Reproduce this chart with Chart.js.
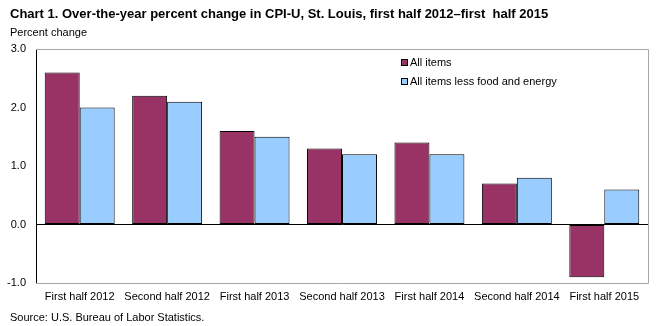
<!DOCTYPE html>
<html><head><meta charset="utf-8">
<script src="https://cdn.jsdelivr.net/npm/chart.js@4/dist/chart.umd.min.js"></script>
<style>html,body{margin:0;padding:0;background:#fff}#w{width:659px;height:326px}</style>
</head><body><div id="w"><canvas id="c" width="659" height="326"></canvas></div>
<script>
const categories = ["First half 2012","Second half 2012","First half 2013","Second half 2013","First half 2014","Second half 2014","First half 2015"];
const allItems = [2.6, 2.2, 1.6, 1.3, 1.4, 0.7, -0.9];
const coreItems = [2.0, 2.1, 1.5, 1.2, 1.2, 0.8, 0.6];
const seriesNames = ["All items","All items less food and energy"];
const yTicks = [3.0, 2.0, 1.0, 0.0, -1.0];
const titleText = "Chart 1. Over-the-year percent change in CPI-U, St. Louis, first half 2012\u2013first  half 2015";
const yLabel = "Percent change";
const sourceText = "Source: U.S. Bureau of Labor Statistics.";

const FONT = "Arial, 'Liberation Sans', sans-serif";
const deco = {
  id: 'deco',
  beforeDatasetsDraw(chart) {
    const {ctx, chartArea: a} = chart;
    ctx.save();
    ctx.strokeStyle = '#a6a6a6'; ctx.lineWidth = 1;
    ctx.beginPath();
    ctx.moveTo(a.left, a.top + 0.5); ctx.lineTo(a.right + 0.5, a.top + 0.5);
    ctx.lineTo(a.right + 0.5, a.bottom + 0.5); ctx.lineTo(a.left, a.bottom + 0.5);
    ctx.stroke();
    ctx.restore();
  },
  afterDraw(chart) {
    const {ctx, chartArea: a} = chart;
    ctx.save();
    ctx.fillStyle = '#000';
    ctx.textBaseline = 'middle'; ctx.textAlign = 'left';
    ctx.font = "bold 13px " + FONT;
    ctx.fillText(titleText, 10, 14);
    ctx.font = "11px " + FONT;
    ctx.fillText(yLabel, 10, 33);
    ctx.fillText(sourceText, 10, 318);
    const ds = chart.data.datasets;
    ds.forEach((d, i) => {
      const y = 63 + i * 19;
      ctx.fillStyle = d.backgroundColor;
      ctx.fillRect(401.5, y - 3.5, 6, 6);
      ctx.strokeStyle = '#000'; ctx.lineWidth = 1;
      ctx.strokeRect(401.5, y - 3.5, 6, 6);
      ctx.fillStyle = '#000';
      ctx.fillText(d.label, 410, y);
    });
    ctx.restore();
  }
};

new Chart(document.getElementById('c'), {
  type: 'bar',
  data: {
    labels: categories,
    datasets: [
      {label: seriesNames[0], data: allItems, backgroundColor: '#993366', borderColor: '#000', borderWidth: 1, borderSkipped: false},
      {label: seriesNames[1], data: coreItems, backgroundColor: '#99ccff', borderColor: '#000', borderWidth: 1, borderSkipped: false}
    ]
  },
  options: {
    responsive: false, animation: false,
    devicePixelRatio: 1,
    layout: {padding: {top: 49, right: 11, bottom: 0, left: 0}},
    categoryPercentage: 0.8, barPercentage: 1.0,
    plugins: {legend: {display: false}, title: {display: false}, tooltip: {enabled: false}},
    scales: {
      x: {
        grid: {display: false, drawTicks: false},
        border: {display: false},
        ticks: {color: '#000', font: {family: FONT, size: 11}, padding: 7, maxRotation: 0, autoSkip: false},
        afterFit(s) { s.height = 43; }
      },
      y: {
        min: -1, max: 3,
        afterBuildTicks(s) { s.ticks = yTicks.map(v => ({value: v})); },
        grid: {drawTicks: false, color: c => (c.tick && c.tick.value === 0) ? '#000' : 'rgba(0,0,0,0)', lineWidth: 1},
        border: {display: true, color: '#000', width: 1},
        ticks: {color: '#000', font: {family: FONT, size: 11}, padding: 10, callback: v => Number(v).toFixed(1)},
        afterFit(s) { s.width = 36; }
      }
    }
  },
  plugins: [deco]
});
</script></body></html>
